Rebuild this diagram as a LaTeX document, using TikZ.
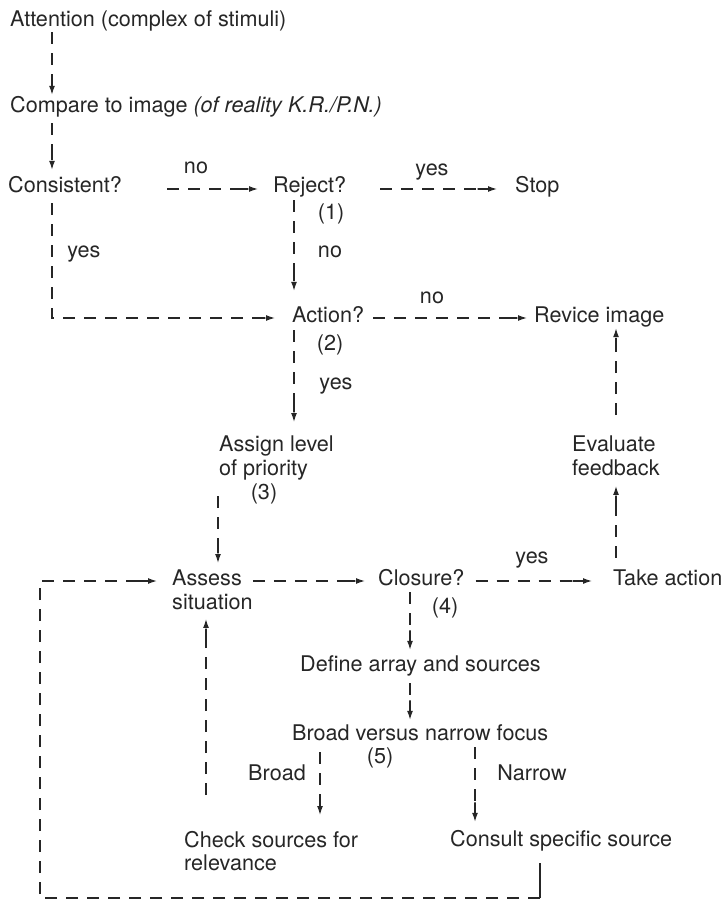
\documentclass[tikz,border=0pt]{standalone}
\usepackage{fontspec}
\setmainfont{TeX Gyre Heros}
\usetikzlibrary{arrows.meta}

\begin{document}
\begin{tikzpicture}[
    x=1pt, y=-1pt,
    txt/.style={inner sep=0pt, anchor=base west, text height=8pt, text depth=0pt, text=black!85, font=\fontsize{21.6}{23.5}\selectfont},
    txtm/.style={inner sep=0pt, anchor=north west, align=left, text=black!85, font=\fontsize{21.6}{23.5}\selectfont},
    lab/.style={inner sep=0pt, anchor=base, text=black!85, font=\fontsize{21.6}{23.5}\selectfont},
    flow/.style={draw=black!85, line width=1.3pt, dash pattern=on 12pt off 9pt, -{Rectangle[length=11pt,width=1.3pt]Latex[length=9pt,width=6pt]}},
    wire/.style={draw=black!85, line width=1.3pt}
]
    \useasboundingbox (0,0) rectangle (723,901);

    % Steps
    \node[txt] (att) at (10,27) {Attention (complex of stimuli)};
    \node[txt] (cmp) at (10,113) {Compare to image \textit{(of reality K.R./P.N.)}};
    \node[txt] (cons) at (8,193) {Consistent?};
    \node[txt] (rej) at (273,193) {Reject?};
    \node[txt] (stop) at (515,193) {Stop};
    \node[txt] (act) at (292,322) {Action?};
    \node[txt] (rev) at (534,322) {Revice image};
    \node[txtm] (assign) at (219,436) {Assign level\\of priority};
    \node[txtm] (eval) at (572,436) {Evaluate\\feedback};
    \node[txtm] (assess) at (172,570) {Assess\\situation};
    \node[txt] (clos) at (378,585) {Closure?};
    \node[txt] (take) at (613,585) {Take action};
    \node[txt] (def) at (300,671) {Define array and sources};
    \node[txt] (bvn) at (292,740) {Broad versus narrow focus};
    \node[txtm] (check) at (184,831) {Check sources for\\relevance};
    \node[txt] (consult) at (450,846) {Consult specific source};

    % Labels
    \node[lab] (no1) at (196,174) {no};
    \node[lab] (yes1) at (432,176) {yes};
    \node[lab] (n1) at (331,220) {(1)};
    \node[lab] (no2) at (330,258) {no};
    \node[lab] (yes2) at (84,258) {yes};
    \node[lab] (no3) at (432,303) {no};
    \node[lab] (n2) at (330,350) {(2)};
    \node[lab] (yes3) at (336,389) {yes};
    \node[lab] (n3) at (264,499) {(3)};
    \node[lab] (yes4) at (532,563) {yes};
    \node[lab] (n4) at (445,613) {(4)};
    \node[lab] (n5) at (380,763) {(5)};
    \node[lab] (broad) at (277,780) {Broad};
    \node[lab] (narrow) at (532,780) {Narrow};

    % Loop corners
    \coordinate (loopr) at (540,898);
    \coordinate (loopl) at (40,898);

    % Connectors
    \draw[flow, shorten <=5pt, shorten >=10pt] ([xshift=42pt]att.south west) -- ([xshift=42pt]cmp.north west);
    \draw[flow, shorten <=10pt, shorten >=15pt] ([xshift=42pt]cmp.south west) -- ([xshift=44pt]cons.north west);
    \draw[flow, shorten <=45pt, shorten >=15pt] (cons.east) -- (rej.west);
    \draw[flow, shorten <=34pt, shorten >=18pt] (rej.east) -- (stop.west);
    \draw[flow, shorten <=7pt, shorten >=23pt] ([xshift=21pt]rej.south west) -- ([xshift=2pt]act.north west);
    \draw[flow, shorten <=10pt, shorten >=17pt] ([xshift=44pt]cons.south west) |- (act.west);
    \draw[flow, shorten <=9pt, shorten >=7pt] (act.east) -- (rev.west);
    \draw[flow, shorten <=8pt, shorten >=14pt] ([xshift=2pt]act.south west) -- ([xshift=75pt]assign.north west);
    \draw[flow, shorten <=16pt, shorten >=7pt] ([xshift=-1pt]assign.south west) -- ([xshift=46pt]assess.north west);
    \draw[flow, shorten >=13pt] (assess.east |- clos.west) -- (clos.west);
    \draw[flow, shorten <=11pt, shorten >=21pt] (clos.east) -- (take.west);
    \draw[flow, shorten <=19pt, shorten >=10pt] ([xshift=3pt]take.north west) -- ([xshift=44pt]eval.south west);
    \draw[flow, shorten <=21pt, shorten >=6pt] ([xshift=44pt]eval.north west) -- ([xshift=82pt]rev.south west);
    \draw[flow, shorten <=7pt, shorten >=13pt] ([xshift=32pt]clos.south west) -- ([xshift=110pt]def.north west);
    \draw[flow, shorten <=12pt, shorten >=12pt] ([xshift=110pt]def.south west) -- ([xshift=118pt]bvn.north west);
    \draw[flow, shorten <=12pt, shorten >=16pt] ([xshift=28pt]bvn.south west) -- ([xshift=136pt]check.north west);
    \draw[flow, shorten <=7pt, shorten >=16pt] ([xshift=183pt]bvn.south west) -- ([xshift=25pt]consult.north west);
    \draw[flow, shorten <=36pt, shorten >=9pt] ([xshift=22pt]check.north west) -- ([xshift=34pt]assess.south west);
    \draw[wire] ([xshift=90pt,yshift=-17pt]consult.south west) -- (loopr);
    \draw[flow, shorten >=15pt] (loopr) -- (loopl) |- (clos.west -| assess.west);
\end{tikzpicture}
\end{document}
